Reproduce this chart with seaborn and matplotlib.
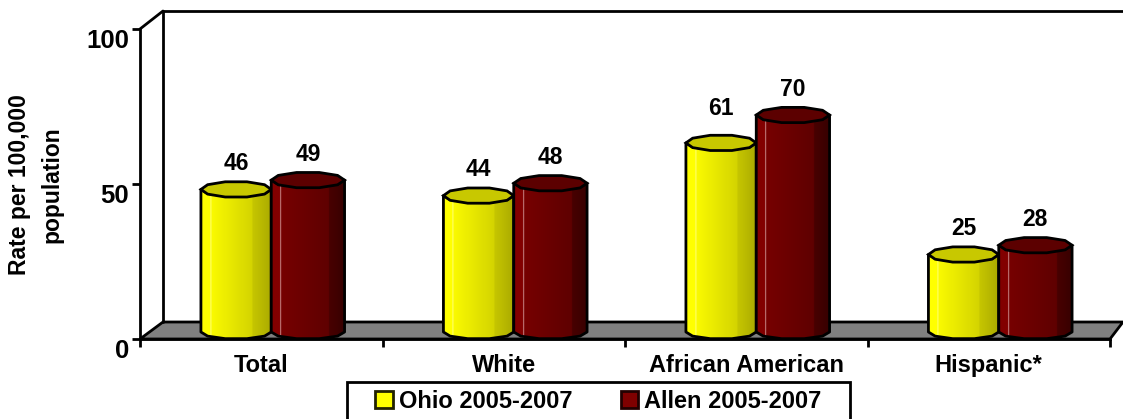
import numpy as np
import pandas as pd
import matplotlib.pyplot as plt
from matplotlib.patches import Patch, Polygon, Rectangle
from matplotlib.lines import Line2D
import seaborn as sn

categories = ["Total", "White", "African American", "Hispanic*"]
ohio = [46, 44, 61, 25]
allen = [49, 48, 70, 28]
series_names = ["Ohio 2005-2007", "Allen 2005-2007"]
y_ticks = [0, 50, 100]

W, H = 1123, 419
sn.set_style("white")
plt.rcParams["font.family"] = ["Liberation Sans", "DejaVu Sans"]
plt.rcParams["font.weight"] = "bold"
plt.rcParams["text.color"] = "black"
plt.rcParams["xtick.labelcolor"] = "black"
plt.rcParams["ytick.labelcolor"] = "black"

df = pd.DataFrame({
    "cat": categories * 2,
    "val": ohio + allen,
    "serie": [series_names[0]] * 4 + [series_names[1]] * 4,
})

fig = plt.figure(figsize=(W / 100, H / 100), dpi=100)
ax = fig.add_axes([140 / W, (H - 339) / H, 970 / W, 310 / H])

sn.barplot(data=df, x="cat", y="val", hue="serie", order=categories,
           palette=["#ffff00", "#7f0000"], width=0.58, gap=0, legend=False, ax=ax)

# one category is 242 px, bars sit 10 px right of the centre (3d depth)
px_x = 1 / 242.5
px_y = 100 / 310
x0 = -0.5 - 10 * px_x
ax.set_xlim(x0, x0 + 4)
ax.set_ylim(0, 100)
ax.set_autoscale_on(False)

STOPS = {
    0: ([0, .13, .135, .15, .72, .73, 1],
        [(255, 255, 0), (255, 255, 0), (255, 255, 170), (250, 250, 0), (212, 212, 0), (198, 198, 0), (170, 170, 0)],
        "#c8c800"),
    1: ([0, .12, .125, .14, .5, .78, .79, 1],
        [(130, 0, 0), (130, 0, 0), (225, 180, 180), (118, 0, 0), (105, 0, 0), (95, 0, 0), (72, 0, 0), (55, 0, 0)],
        "#5c0000"),
}


def arc(xl, xr, yc, ry, a0, a1, n=8):
    # coarse arc so the rim looks faceted like the original
    a = np.linspace(a0, a1, n)
    xm, rx = (xl + xr) / 2, (xr - xl) / 2
    return np.column_stack([xm + rx * np.cos(a), yc + ry * np.sin(a) * px_y])


for s, cont in enumerate(ax.containers):
    for bar in cont:
        xl = bar.get_x()
        xr = xl + bar.get_width() + (3 * px_x if s == 1 else 0)
        top = bar.get_height()
        bar.set_visible(False)

        yc_top = top + 7 * px_y
        yc_bot = 7 * px_y
        body = np.vstack([[[xl, yc_top]], arc(xl, xr, yc_bot, 7, np.pi, 2 * np.pi, 6),
                          [[xr, yc_top]], arc(xl, xr, yc_top, 7, 2 * np.pi, np.pi, 6)])

        t = np.linspace(0, 1, 200)
        pos, cols, cap = STOPS[s]
        cols = np.array(cols)
        grad = np.stack([np.interp(t, pos, cols[:, c]) for c in range(3)], axis=-1) / 255

        im = ax.imshow(grad[None, :, :], extent=(xl, xr, 0, top + 10), aspect="auto", zorder=3 + s)
        outline = Polygon(body, closed=True, fc="none", ec="black", lw=2, zorder=3.5 + s, clip_on=False, joinstyle="round")
        ax.add_patch(outline)
        im.set_clip_path(outline)

        lid = Polygon(arc(xl, xr, yc_top, 8, 0, 2 * np.pi, 11), closed=True, fc=cap, ec="black", lw=2,
                      zorder=3.6 + s, clip_on=False)
        ax.add_patch(lid)

        nudge = 8 if top == 61 else 0
        ax.annotate(f"{top:.0f}", ((xl + xr) / 2, top), xytext=(0, (33 + nudge) * 0.72), textcoords="offset points",
                    ha="center", va="center", fontsize=16.5, fontweight="bold", color="black", zorder=8)


# 3d box: floor and back wall
def fx(x):
    return x / W


def fy(y):
    return (H - y) / H


floor = Polygon([(fx(140), fy(339)), (fx(163), fy(322)), (fx(1123), fy(322)), (fx(1110), fy(339))],
                closed=True, transform=fig.transFigure, fc="#808080", ec="black", lw=2)
fig.add_artist(floor)
floor.set_zorder(-1)
ax.patch.set_alpha(0)
for xs, ys in [([140, 163], [29, 11]), ([163, 163], [11, 322]), ([163, 1123], [11, 11])]:
    fig.add_artist(Line2D([fx(v) for v in xs], [fy(v) for v in ys], color="black", lw=2, zorder=-1))

sn.despine(ax=ax, top=True, right=True)
for side in ["left", "bottom"]:
    ax.spines[side].set_linewidth(2)
    ax.spines[side].set_color("black")

ax.set_yticks(y_ticks)
ax.set_yticklabels([str(v) for v in y_ticks], fontsize=18.5, fontweight="bold")
for lab in ax.get_yticklabels():
    lab.set_va("top")
ax.tick_params(axis="y", left=True, length=6, width=2, pad=2, color="black", labelcolor="black")

ax.set_xticks([i - 10 * px_x for i in range(4)])
ax.set_xticklabels(categories, fontsize=17, fontweight="bold")
ax.set_xticks([x0 + i for i in range(5)], minor=True)
ax.tick_params(axis="x", which="major", bottom=False, length=0, pad=11, labelcolor="black")
ax.tick_params(axis="x", which="minor", bottom=True, length=6, width=2, color="black")
ax.set_xlabel("")
ax.set_ylabel("")

fig.text(20 / W, fy(185), "Rate per 100,000", rotation=90, ha="center", va="center", fontsize=16.5, fontweight="bold")
fig.text(52 / W, fy(185), "population", rotation=90, ha="center", va="center", fontsize=16.5, fontweight="bold")

# legend box runs off the bottom of the picture
fig.add_artist(Rectangle((fx(347), fy(430)), 503 / W, 48 / H, transform=fig.transFigure,
                         fc="white", ec="black", lw=2))
handles = [Patch(fc="#ffff00", ec="#222200", lw=2, label=series_names[0]),
           Patch(fc="#7f0000", ec="#220000", lw=2, label=series_names[1])]
leg = fig.legend(handles=handles, ncol=2, loc="upper left", bbox_to_anchor=(375 / W, fy(390)),
                 fontsize=17, frameon=False, borderaxespad=0, borderpad=0, handlelength=0.75, handleheight=0.75,
                 handletextpad=0.25, columnspacing=2.05)

fig.savefig("out.png", dpi=100)
